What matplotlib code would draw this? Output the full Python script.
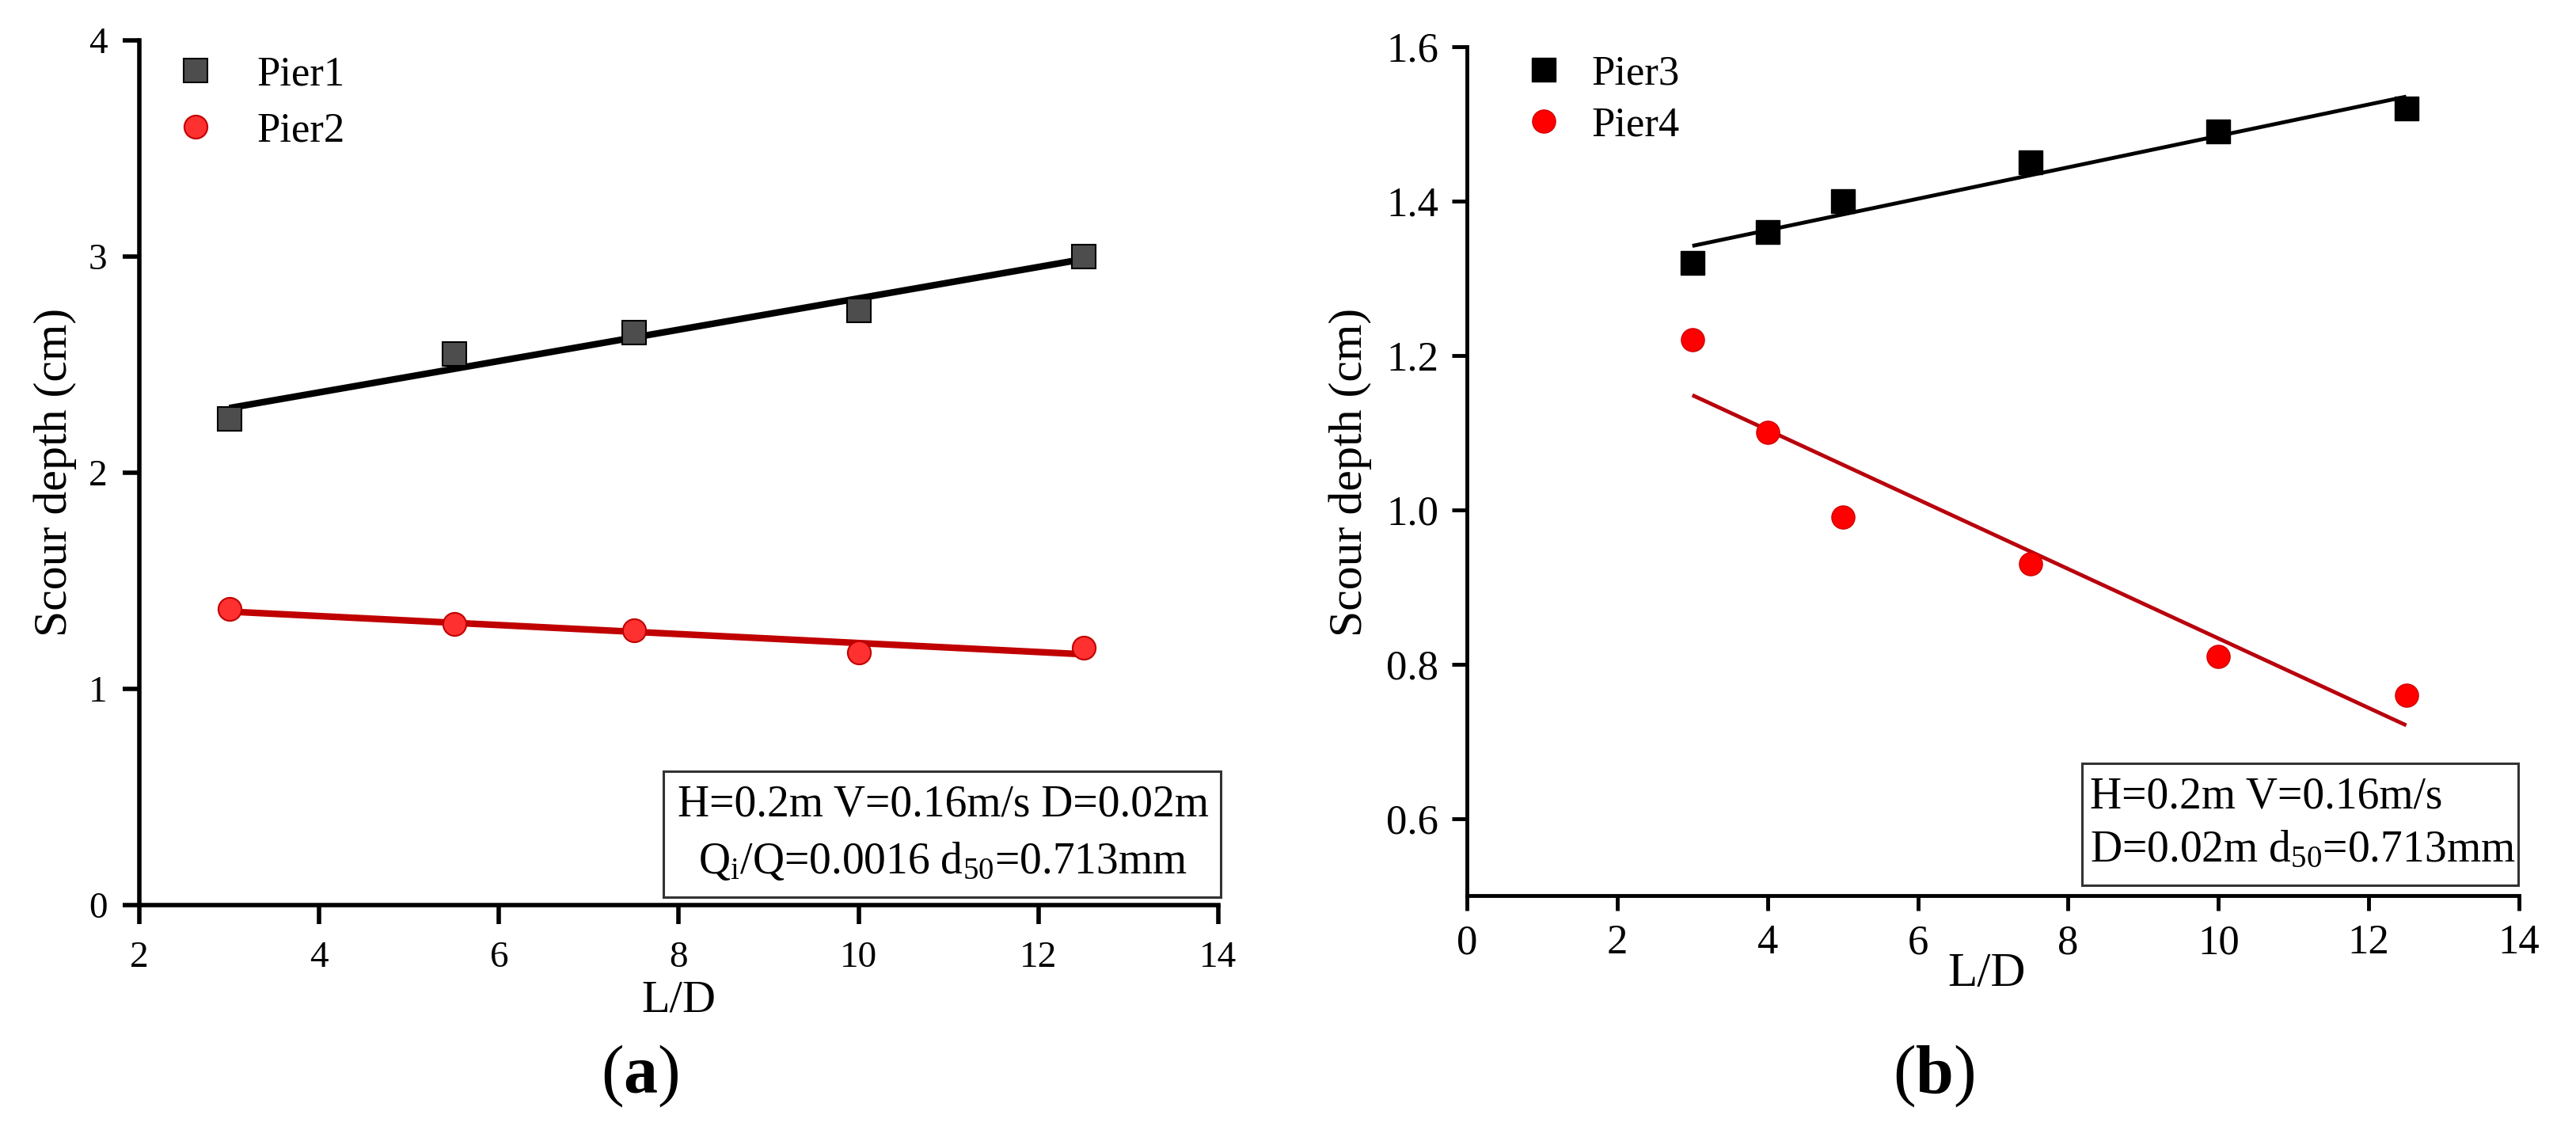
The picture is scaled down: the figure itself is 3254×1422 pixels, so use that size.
import numpy as np
import matplotlib
matplotlib.use("Agg")
import matplotlib.pyplot as plt
from matplotlib.patches import Rectangle

plt.rcParams['font.family'] = ['Liberation Serif', 'DejaVu Serif']
plt.rcParams['mathtext.fontset'] = 'custom'
plt.rcParams['mathtext.rm'] = 'Liberation Serif'
plt.rcParams['mathtext.it'] = 'Liberation Serif:italic'
plt.rcParams['mathtext.bf'] = 'Liberation Serif:bold'

# panel (a)
ld_a = [3, 5.5, 7.5, 10, 12.5]
pier1 = [2.25, 2.55, 2.65, 2.75, 3.00]
pier2 = [1.37, 1.30, 1.27, 1.17, 1.19]

# panel (b)
ld_b = [3, 4, 5, 7.5, 10, 12.5]
pier3 = [1.32, 1.36, 1.40, 1.45, 1.49, 1.52]
pier4 = [1.22, 1.10, 0.99, 0.93, 0.81, 0.76]

W, H = 3255, 1422
fig = plt.figure(figsize=(W / 100, H / 100), dpi=100)

ax1 = fig.add_axes([176 / W, 1 - 1143 / H, (1539 - 176) / W, (1143 - 51) / H])
ax2 = fig.add_axes([1853 / W, 1 - 1131 / H, (3182 - 1853) / W, (1131 - 59) / H])


def fit_line(ax, x, y, color, lw):
    k, b = np.polyfit(x, y, 1)
    xs = np.array([x[0], x[-1]])
    ax.plot(xs, k * xs + b, color=color, lw=lw, solid_capstyle='butt', zorder=2)


# ---- (a)
fit_line(ax1, ld_a, pier1, 'black', 6)
fit_line(ax1, ld_a, pier2, '#c00000', 6)
ax1.plot(ld_a, pier1, 's', ms=22, mfc='#4d4d4d', mec='black', mew=1.5, label='Pier1', zorder=3)
ax1.plot(ld_a, pier2, 'o', ms=21, mfc='#ff3030', mec='#c00000', mew=1.5, label='Pier2', zorder=3)
ax1.set_xlim(2, 14)
ax1.set_ylim(0, 4)
ax1.set_xticks(range(2, 15, 2))
ax1.set_yticks(range(0, 5))
ax1.tick_params(labelsize=34, width=4, length=15, pad=14)
ax1.tick_params(axis='x', length=17, pad=16)
for s in ['top', 'right']:
    ax1.spines[s].set_visible(False)
for s in ['left', 'bottom']:
    ax1.spines[s].set_linewidth(4)
ax1.legend(loc='upper left', bbox_to_anchor=(0.033, 0.982), borderaxespad=0, borderpad=0,
           frameon=False, fontsize=38, handlelength=1.0, handletextpad=0.96,
           labelspacing=0.43, numpoints=1)
ax1.add_patch(Rectangle((0.4857, 0.0092), 0.5165, 0.1456, transform=ax1.transAxes,
                        fill=False, ec='#333333', lw=2.2, clip_on=False))
ax1.text(0.7447, 0.1026, 'H=0.2m V=0.16m/s D=0.02m', transform=ax1.transAxes,
         ha='center', va='baseline', fontsize=40)
ax1.text(0.7447, 0.0366, r'Q$_\mathrm{i}$/Q=0.0016 d$_{50}$=0.713mm', transform=ax1.transAxes,
         ha='center', va='baseline', fontsize=40)

# ---- (b)
fit_line(ax2, ld_b, pier3, 'black', 3.5)
fit_line(ax2, ld_b, pier4, '#b8000c', 3.5)
ax2.plot(ld_b, pier3, 's', ms=22, mfc='black', mec='black', mew=1, label='Pier3', zorder=3)
ax2.plot(ld_b, pier4, 'o', ms=21, mfc='#ff0000', mec='#d00000', mew=1, label='Pier4', zorder=3)
ax2.set_xlim(0, 14)
ax2.set_ylim(0.5, 1.6)
ax2.set_xticks(range(0, 15, 2))
ax2.set_yticks([0.6, 0.8, 1.0, 1.2, 1.4, 1.6])
ax2.set_yticklabels(['0.6', '0.8', '1.0', '1.2', '1.4', '1.6'])
ax2.tick_params(labelsize=38, width=3.5, length=14, pad=12)
for s in ['top', 'right']:
    ax2.spines[s].set_visible(False)
for s in ['left', 'bottom']:
    ax2.spines[s].set_linewidth(3.5)
ax2.legend(loc='upper left', bbox_to_anchor=(0.0534, 0.99), borderaxespad=0, borderpad=0,
           frameon=False, fontsize=38, handlelength=1.0, handletextpad=0.64,
           labelspacing=0.32, numpoints=1)
ax2.add_patch(Rectangle((0.5847, 0.0121), 0.4145, 0.1437, transform=ax2.transAxes,
                        fill=False, ec='#333333', lw=2.2, clip_on=False))
ax2.text(0.592, 0.1035, 'H=0.2m V=0.16m/s', transform=ax2.transAxes,
         ha='left', va='baseline', fontsize=40)
ax2.text(0.592, 0.040, r'D=0.02m d$_{50}$=0.713mm', transform=ax2.transAxes,
         ha='left', va='baseline', fontsize=40)

# axis titles and panel letters
fig.text(70 / W, 1 - 596 / H, 'Scour depth (cm)', rotation=90, ha='center', va='center', fontsize=43)
fig.text(1706 / W, 1 - 596 / H, 'Scour depth (cm)', rotation=90, ha='center', va='center', fontsize=43)
fig.text(857 / W, 1 - 1277 / H, 'L/D', ha='center', va='baseline', fontsize=42)
fig.text(2510 / W, 1 - 1245 / H, 'L/D', ha='center', va='baseline', fontsize=44)
fig.text(808 / W, 1 - 1380 / H, r'($\mathbf{a}$)', ha='center', va='baseline', fontsize=62)
fig.text(2443 / W, 1 - 1380 / H, r'($\mathbf{b}$)', ha='center', va='baseline', fontsize=62)

fig.savefig('out.png', dpi=100)
